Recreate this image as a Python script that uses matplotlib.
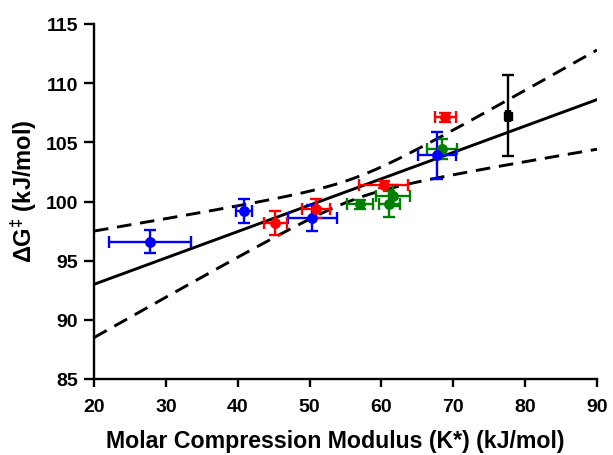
import numpy as np
import matplotlib
matplotlib.use("Agg")
import matplotlib.pyplot as plt

plt.rcParams['font.family'] = ['Liberation Sans', 'DejaVu Sans']
plt.rcParams['font.weight'] = 'bold'
plt.rcParams['mathtext.default'] = 'regular'

# --- data ---
blue_x = [27.8, 40.9, 50.4, 67.7]
blue_y = [96.6, 99.2, 98.6, 103.9]
blue_xerr = [5.7, 1.15, 3.45, 2.65]
blue_yerr = [0.95, 1.0, 1.1, 2.0]

red_x = [45.2, 50.9, 60.3, 68.9]
red_y = [98.2, 99.4, 101.4, 107.1]
red_xerr = [1.6, 2.0, 3.45, 1.5]
red_yerr = [1.0, 0.8, 0.3, 0.4]

green_x = [57.0, 61.6, 61.1, 68.4]
green_y = [99.75, 100.5, 99.8, 104.4]
green_xerr = [1.8, 2.4, 1.5, 2.1]
green_yerr = [0.4, 0.9, 1.1, 0.85]

black_x = [77.6]
black_y = [107.25]
black_xerr = [0.3]
black_yerr = [3.4]

# linear fit and confidence band parameters
fit_intercept = 93.0 - 0.223 * 20
fit_slope = 0.223
band_min = 0.9        # half-width at band centre
band_center = 56.3
band_growth = 0.1215

x_ticks = [20, 30, 40, 50, 60, 70, 80, 90]
y_ticks = [85, 90, 95, 100, 105, 110, 115]

fig = plt.figure(figsize=(6.13, 4.56), dpi=100)
ax = fig.add_axes([94/613, 1 - 380/456, 503/613, 355/456])

xx = np.linspace(20, 90, 300)
yfit = fit_intercept + fit_slope * xx
half = np.sqrt(band_min**2 + (band_growth * (xx - band_center))**2)
ax.plot(xx, yfit, color='black', lw=2.1, zorder=2)
ax.plot(xx, yfit + half, color='black', lw=2.1, dashes=(5, 3), zorder=2)
ax.plot(xx, yfit - half, color='black', lw=2.1, dashes=(5, 3), zorder=2)

kw = dict(fmt='o', markersize=6.8, elinewidth=1.7, capsize=4, capthick=1.7, zorder=3)
ax.errorbar(green_x, green_y, xerr=green_xerr, yerr=green_yerr, color='#008000', ecolor='#008000', **kw)
ax.errorbar(blue_x, blue_y, xerr=blue_xerr, yerr=blue_yerr, color='#0000FF', ecolor='#0000FF', **kw)
ax.errorbar(red_x, red_y, xerr=red_xerr, yerr=red_yerr, color='#FF0000', ecolor='#FF0000', **kw)
kw_b = dict(kw)
kw_b['fmt'] = 's'
kw_b['markersize'] = 5.5
ax.errorbar(black_x, black_y, xerr=black_xerr, yerr=black_yerr, color='black', ecolor='black', **kw_b)

ax.set_xlim(20, 90)
ax.set_ylim(85, 115)
ax.set_xticks(x_ticks)
ax.set_yticks(y_ticks)
for s in ['top', 'right']:
    ax.spines[s].set_visible(False)
for s in ['left', 'bottom']:
    ax.spines[s].set_linewidth(1.7)
ax.tick_params(axis='both', direction='out', width=1.7, labelsize=14)
ax.tick_params(axis='y', length=7.5, pad=4)
ax.tick_params(axis='x', length=5.5, pad=8)
for lab in ax.get_xticklabels() + ax.get_yticklabels():
    lab.set_fontweight('bold')

ax.set_xlabel('Molar Compression Modulus (K*) (kJ/mol)', fontsize=16.7, fontweight='bold')
ax.set_ylabel('ΔG$^{‡}$ (kJ/mol)', fontsize=17, fontweight='bold')
ax.xaxis.set_label_coords(0.479, -0.14)
ax.yaxis.set_label_coords(-0.109, 0.531)

fig.savefig('out.png', dpi=100)
